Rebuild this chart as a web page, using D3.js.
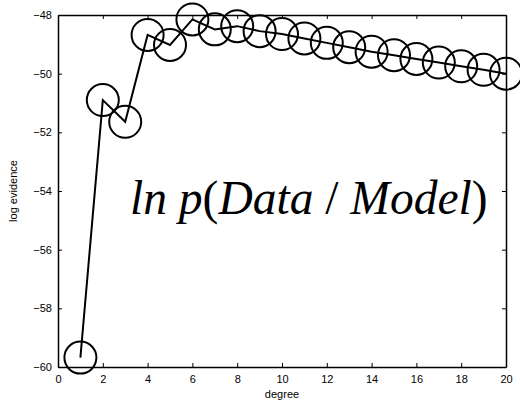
<!DOCTYPE html>
<html>
<head>
<meta charset="utf-8">
<script src="https://cdn.jsdelivr.net/npm/d3@7"></script>
<style>
  body { margin: 0; background: #fff; }
  svg { display: block; }
  .axis text { font-family: 'Liberation Sans', Arial, sans-serif; font-size: 11px; fill: #000; }
</style>
</head>
<body>
<div id="chart"></div>
<script>
let degrees = d3.range(1, 21)
let logEvidence = [
  -59.68, -50.9, -51.64, -48.68, -49.02, -48.15, -48.49, -48.38, -48.55, -48.65,
  -48.8, -48.95, -49.1, -49.25, -49.37, -49.5, -49.62, -49.75, -49.87, -50.0
]
let xTicks = d3.range(0, 21, 2)
let yTicks = [-60, -58, -56, -54, -52, -50, -48]

let margin = { top: 15, left: 58, right: 14, bottom: 38 }
let width = 520 - margin.left - margin.right
let height = 405 - margin.top - margin.bottom

let svg = d3
  .select('#chart')
  .append('svg')
  .attr('width', 520)
  .attr('height', 405)
  .append('g')
  .attr('transform', 'translate(' + margin.left + ',' + margin.top + ')')

let xPositionScale = d3.scaleLinear().domain([0, 20]).range([0, width])
let yPositionScale = d3.scaleLinear().domain([-60, -48]).range([height, 0])

let points = degrees.map((d, i) => ({ degree: d, value: logEvidence[i] }))

// axes with inward ticks on all four sides
svg
  .append('g')
  .attr('class', 'axis x-axis')
  .attr('transform', 'translate(0,' + height + ')')
  .call(d3.axisBottom(xPositionScale).tickValues(xTicks).tickSizeInner(-4).tickSizeOuter(0).tickPadding(8))
svg
  .append('g')
  .attr('class', 'axis')
  .call(d3.axisTop(xPositionScale).tickValues(xTicks).tickSizeInner(-4).tickSizeOuter(0).tickFormat(''))
svg
  .append('g')
  .attr('class', 'axis y-axis')
  .call(d3.axisLeft(yPositionScale).tickValues(yTicks).tickSizeInner(-4).tickSizeOuter(0).tickPadding(6))
svg
  .append('g')
  .attr('class', 'axis')
  .attr('transform', 'translate(' + width + ',0)')
  .call(d3.axisRight(yPositionScale).tickValues(yTicks).tickSizeInner(-4).tickSizeOuter(0).tickFormat(''))

svg.selectAll('.axis path').attr('stroke', '#000').attr('stroke-width', 1.5)
svg.selectAll('.axis line').attr('stroke', '#000').attr('stroke-width', 1)

let line = d3
  .line()
  .x(d => xPositionScale(d.degree))
  .y(d => yPositionScale(d.value))

svg
  .append('path')
  .datum(points)
  .attr('d', line)
  .attr('fill', 'none')
  .attr('stroke', '#000')
  .attr('stroke-width', 2)

svg
  .selectAll('.dot')
  .data(points)
  .enter()
  .append('circle')
  .attr('class', 'dot')
  .attr('cx', d => xPositionScale(d.degree))
  .attr('cy', d => yPositionScale(d.value))
  .attr('r', 16)
  .attr('fill', 'none')
  .attr('stroke', '#000')
  .attr('stroke-width', 2)

// axis labels
svg
  .append('text')
  .attr('x', width / 2)
  .attr('y', height + 31)
  .attr('text-anchor', 'middle')
  .attr('font-family', 'Liberation Sans, Arial, sans-serif')
  .attr('font-size', 11)
  .text('degree')

svg
  .append('text')
  .attr('transform', 'translate(' + (-41) + ',' + height / 2 + ') rotate(-90)')
  .attr('text-anchor', 'middle')
  .attr('font-family', 'Liberation Sans, Arial, sans-serif')
  .attr('font-size', 11)
  .text('log evidence')

// annotation
let note = svg
  .append('text')
  .attr('x', 72)
  .attr('y', 199)
  .attr('font-family', 'Liberation Serif, Times New Roman, serif')
  .attr('font-size', 47.5)
note.append('tspan').attr('font-style', 'italic').text('ln p')
note.append('tspan').text('(')
note.append('tspan').attr('font-style', 'italic').text('Data')
note.append('tspan').text(' / ')
note.append('tspan').attr('font-style', 'italic').text('Model')
note.append('tspan').text(')')
</script>
</body>
</html>
